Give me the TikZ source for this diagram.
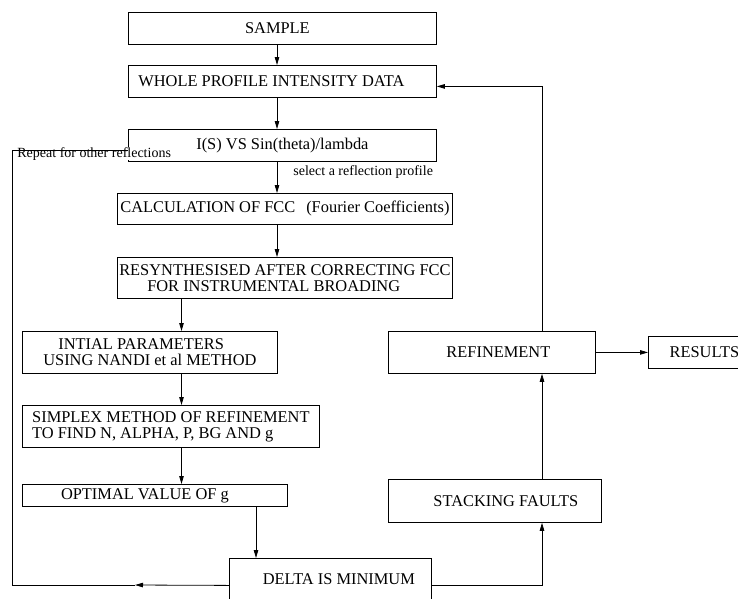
\documentclass[tikz,border=0pt]{standalone}
\usepackage{fontspec}
\setmainfont{Liberation Serif}
\usetikzlibrary{arrows.meta}

\begin{document}
\begin{tikzpicture}[
  x=1pt, y=-1pt,
  line width=0.8pt,
  font=\fontsize{16.4}{16}\selectfont,
  stage/.style={draw, rectangle, inner sep=0pt, anchor=north west},
  flow/.style={-{Triangle[length=8pt,width=4.5pt]}},
  note/.style={font=\fontsize{14}{16}\selectfont, inner sep=0pt},
  nudge/.style={execute at begin node={\hspace*{#1}}}
]

\useasboundingbox (0,0) rectangle (738,598);
\clip (0,0) rectangle (738,598);

% Column positions of the connectors.
\coordinate (mainx) at (277,0);
\coordinate (leftx) at (181.5,0);
\coordinate (dropx) at (256,0);
\coordinate (feedx) at (542,0);
\coordinate (loopcorner) at (12,585);
\coordinate (looptip) at (135,585);

% Left-hand chain of stages.
\node[stage, minimum width=308, minimum height=32, nudge=-10pt] (sample) at (128,12) {SAMPLE};
\node[stage, minimum width=308, minimum height=32, nudge=-22pt] (whole) at (128,65) {WHOLE PROFILE INTENSITY DATA};
\node[stage, minimum width=308, minimum height=32] (isplot) at (128,129) {I(S) VS Sin(theta)/lambda};
\node[stage, minimum width=335, minimum height=31] (fcc) at (117,193)
  {CALCULATION OF FCC\hspace{11pt}(Fourier Coefficients)};
\node[stage, minimum width=335, minimum height=41, align=left] (resynth) at (117,257)
  {RESYNTHESISED AFTER CORRECTING FCC\\\hspace*{28pt}FOR INSTRUMENTAL BROADING};
\node[stage, minimum width=255, minimum height=42, align=left] (initial) at (22,331)
  {\hspace*{15pt}INTIAL PARAMETERS\\USING NANDI et al METHOD};
\node[stage, minimum width=297, minimum height=42, align=left] (simplex) at (22,405)
  {SIMPLEX METHOD OF REFINEMENT\\TO FIND N, ALPHA, P, BG AND g};
\node[stage, minimum width=265, minimum height=22, nudge=-20pt] (optimal) at (22,484) {OPTIMAL VALUE OF g};
\node[stage, minimum width=202, minimum height=42, nudge=17pt] (delta) at (229,558) {DELTA IS MINIMUM};

% Right-hand chain.
\node[stage, minimum width=213, minimum height=43, nudge=22pt] (faults) at (388,479) {STACKING FAULTS};
\node[stage, minimum width=207, minimum height=42, nudge=13pt] (refine) at (388,331) {REFINEMENT};
\node[stage, minimum width=112, minimum height=32] (results) at (648,336) {RESULTS};

\node[note, anchor=base west, fill=white] (repeatlabel) at (17,157) {Repeat for other reflections};

% Connectors.
\draw[flow] (sample.south -| mainx) -- (whole.north -| mainx);
\draw[flow] (whole.south -| mainx) -- (isplot.north -| mainx);
\draw[flow] (isplot.south -| mainx) --
  node[note, anchor=west, pos=0.33, xshift=16pt] (selectlabel) {select a reflection profile}
  (fcc.north -| mainx);
\draw[flow] (fcc.south -| mainx) -- (resynth.north -| mainx);
\draw[flow] (resynth.south -| leftx) -- (initial.north -| leftx);
\draw[flow] (initial.south -| leftx) -- (simplex.north -| leftx);
\draw[flow] (simplex.south -| leftx) -- (optimal.north -| leftx);
\draw[flow] (optimal.south -| dropx) -- (delta.north -| dropx);

\draw[flow] ([yshift=-6pt]delta.east) -| (faults.south -| feedx);
\draw[flow] (faults.north -| feedx) -- (refine.south -| feedx);
\draw[flow] (refine.east) -- (results.west);
\draw[flow] (refine.north -| feedx) |- ([yshift=-5pt]whole.east);

% Loop back for the next reflection.
\draw[flow] ([yshift=-6pt]delta.west) -- (looptip);
\draw (looptip) -- (loopcorner) |- ([yshift=-5pt]isplot.west);

\end{tikzpicture}
\end{document}
